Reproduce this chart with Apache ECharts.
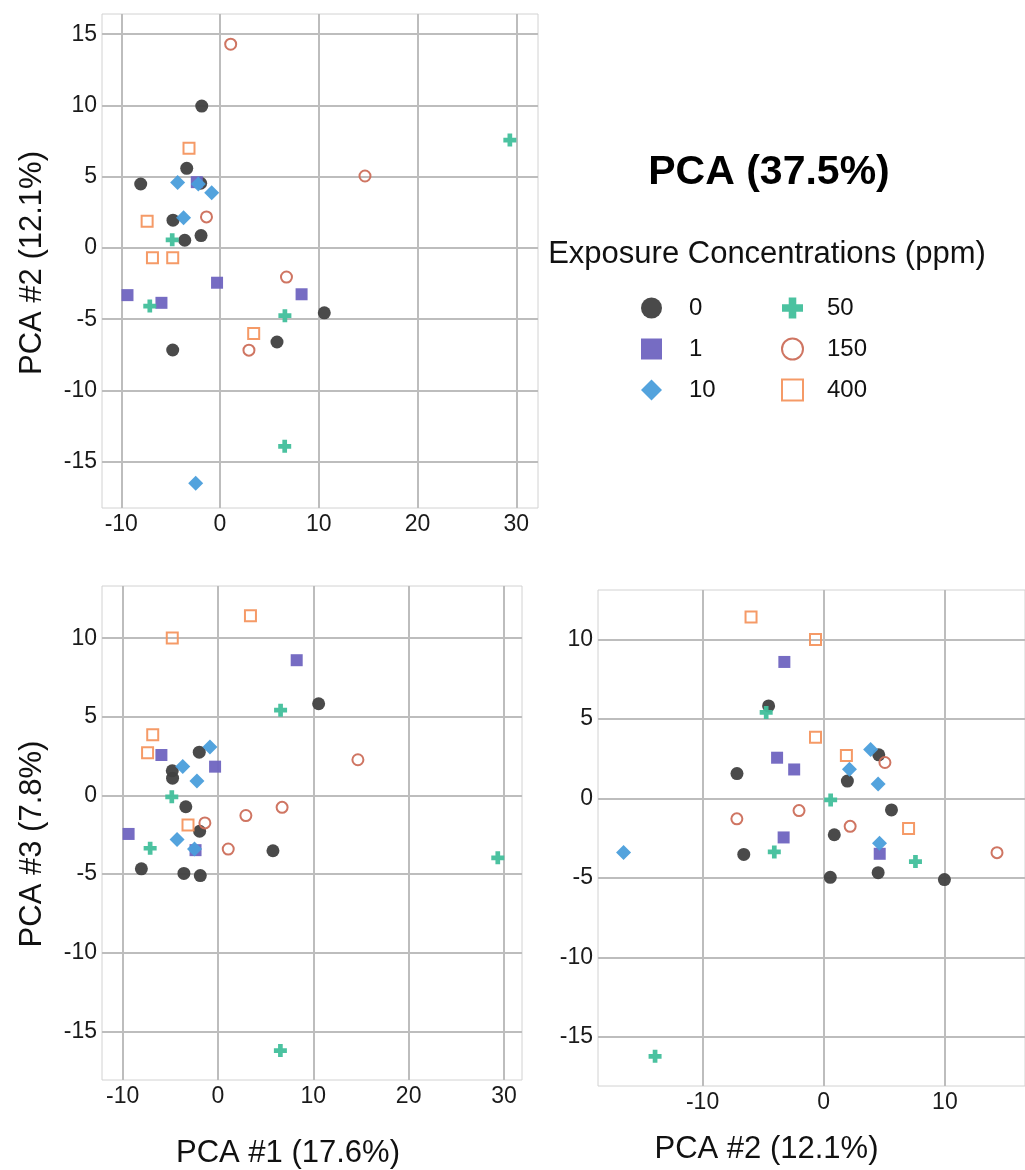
<!DOCTYPE html>
<html>
<head>
<meta charset="utf-8">
<title>PCA (37.5%)</title>
<script src="https://cdn.jsdelivr.net/npm/echarts@6/dist/echarts.min.js"></script>
<style>
  html, body { margin: 0; padding: 0; background: #fff; }
  #chart { width: 1025px; height: 1170px; }
</style>
</head>
<body>
<div id="chart"></div>
<script>
// exposure concentrations (ppm), legend order
const groups = ["0", "1", "10", "50", "150", "400"];

// sample scores: [PCA #1, PCA #2, PCA #3]
const ppm0 = [
  [-1.85, 9.96, -5.1],
  [-3.37, 5.59, -0.72],
  [-8.03, 4.49, -4.67],
  [-1.96, 4.54, 2.75],
  [-4.76, 1.95, 1.1],
  [-3.57, 0.54, -4.96],
  [-1.92, 0.87, -2.28],
  [10.56, -4.55, 5.83],
  [5.77, -6.6, -3.52],
  [-4.79, -7.16, 1.57]
];
const ppm1 = [
  [-2.35, 4.62, -3.48],
  [-0.3, -2.44, 1.83],
  [-9.37, -3.31, -2.45],
  [-5.93, -3.85, 2.57],
  [8.26, -3.25, 8.6]
];
const ppm10 = [
  [-4.29, 4.6, -2.81],
  [-2.2, 4.49, 0.92],
  [-0.84, 3.87, 3.08],
  [-3.69, 2.12, 1.84],
  [-2.46, -16.52, -3.4]
];
const ppm50 = [
  [29.35, 7.57, -3.97],
  [-4.84, 0.57, -0.09],
  [-7.11, -4.08, -3.36],
  [6.57, -4.75, 5.42],
  [6.55, -13.92, -16.23]
];
const ppm150 = [
  [1.08, 14.3, -3.41],
  [14.68, 5.05, 2.27],
  [-1.37, 2.18, -1.75],
  [6.73, -2.04, -0.76],
  [2.93, -7.17, -1.28]
];
const ppm400 = [
  [-3.14, 7.0, -1.88],
  [-7.38, 1.87, 2.71],
  [-6.84, -0.68, 3.86],
  [-4.79, -0.68, 10.01],
  [3.41, -6.0, 11.43]
];

const samples = { "0": ppm0, "1": ppm1, "10": ppm10, "50": ppm50, "150": ppm150, "400": ppm400 };

// which score goes on x / y in each panel
const panels = [
  { x: 0, y: 1 },
  { x: 0, y: 2 },
  { x: 1, y: 2 }
];

const FONT = "Liberation Sans, Arial, sans-serif";
const PLUS = "path://M3.2,0H6.8V3.2H10V6.8H6.8V10H3.2V6.8H0V3.2H3.2Z";

const markers = {
  "0":   { symbol: "circle",  size: 13, itemStyle: { color: "#404040" } },
  "1":   { symbol: "rect",    size: 12, itemStyle: { color: "#6f64c0" } },
  "10":  { symbol: "diamond", size: 15, itemStyle: { color: "#4a9edb" } },
  "50":  { symbol: PLUS,      size: 13, itemStyle: { color: "#41bf9b" } },
  "150": { symbol: "circle",  size: 11, itemStyle: { color: "rgba(255,255,255,0)", borderColor: "#cc6e5a", borderWidth: 2 } },
  "400": { symbol: "rect",    size: 11, itemStyle: { color: "rgba(255,255,255,0)", borderColor: "#f4955f", borderWidth: 2 } }
};

const tickFmt = v => (Math.abs(v % 5) < 1e-6 ? String(v) : "");

function valueAxis(gridIndex, min, max, extra) {
  return Object.assign({
    type: "value",
    gridIndex,
    min,
    max,
    splitNumber: 4,
    axisLine: { show: false },
    axisTick: { show: false },
    axisLabel: {
      fontFamily: FONT, fontSize: 23, color: "#1a1a1a", margin: 5,
      showMinLabel: false, showMaxLabel: false, formatter: tickFmt
    },
    splitLine: { show: true, showMinLine: false, showMaxLine: false, lineStyle: { color: "#bdbdbd", width: 2 } },
    nameTextStyle: { fontFamily: FONT, fontSize: 31, color: "#111" }
  }, extra || {});
}

function nameStyle(padding) {
  return { fontFamily: FONT, fontSize: 31, color: "#111", padding };
}

const series = [];
panels.forEach((p, gi) => {
  groups.forEach(g => {
    const m = markers[g];
    series.push({
      name: g,
      type: "scatter",
      xAxisIndex: gi,
      yAxisIndex: gi,
      symbol: m.symbol,
      symbolSize: m.size,
      itemStyle: Object.assign({ opacity: 0.95 }, m.itemStyle),
      emphasis: { disabled: true },
      data: samples[g].map(s => [s[p.x], s[p.y]])
    });
  });
});

const legendBase = {
  orient: "vertical",
  top: 291,
  itemWidth: 21,
  itemHeight: 21,
  itemGap: 17,
  selectedMode: false,
  textStyle: { fontFamily: FONT, fontSize: 24, color: "#111", lineHeight: 24 }
};

const chart = echarts.init(document.getElementById("chart"), null, { renderer: "canvas" });
chart.setOption({
  backgroundColor: "#fff",
  animation: false,
  grid: [
    { left: 102, top: 14, width: 436, height: 494, show: true, borderColor: "#d2d2d2", borderWidth: 1 },
    { left: 102, top: 586, width: 420, height: 496, show: true, borderColor: "#d2d2d2", borderWidth: 1 },
    { left: 598, top: 590, width: 432, height: 496, show: true, borderColor: "#d2d2d2", borderWidth: 1 }
  ],
  xAxis: [
    valueAxis(0, -11.95, 32.2),
    valueAxis(1, -12.16, 31.89, { name: "PCA #1 (17.6%)", nameLocation: "middle", nameGap: 58, nameTextStyle: nameStyle([0, 48, 0, 0]) }),
    valueAxis(2, -18.63, 16.61, { name: "PCA #2 (12.1%)", nameLocation: "middle", nameGap: 48, nameTextStyle: nameStyle([0, 90, 0, 0]) })
  ],
  yAxis: [
    valueAxis(0, -18.25, 16.42, { splitNumber: 7, name: "PCA #2 (12.1%)", nameLocation: "middle", nameGap: 54, nameTextStyle: nameStyle([0, 4, 0, 0]) }),
    valueAxis(1, -18.1, 13.32, { splitNumber: 7, name: "PCA #3 (7.8%)", nameLocation: "middle", nameGap: 54, nameTextStyle: nameStyle([0, 22, 0, 0]) }),
    valueAxis(2, -18.1, 13.13, { splitNumber: 7 })
  ],
  legend: [
    Object.assign({}, legendBase, { left: 636, data: ["0", "1", "10"], textStyle: Object.assign({}, legendBase.textStyle, { padding: [0, 0, 0, 22] }) }),
    Object.assign({}, legendBase, { left: 776, data: ["50", "150", "400"], textStyle: Object.assign({}, legendBase.textStyle, { padding: [0, 0, 0, 19] }) })
  ],
  graphic: [
    { type: "text", x: 769, y: 173, style: { text: "PCA (37.5%)", font: `bold 41px ${FONT}`, fill: "#000", align: "center", verticalAlign: "middle" } },
    { type: "text", x: 767, y: 254, style: { text: "Exposure Concentrations (ppm)", font: `31px ${FONT}`, fill: "#111", align: "center", verticalAlign: "middle" } }
  ],
  series
});
</script>
</body>
</html>
